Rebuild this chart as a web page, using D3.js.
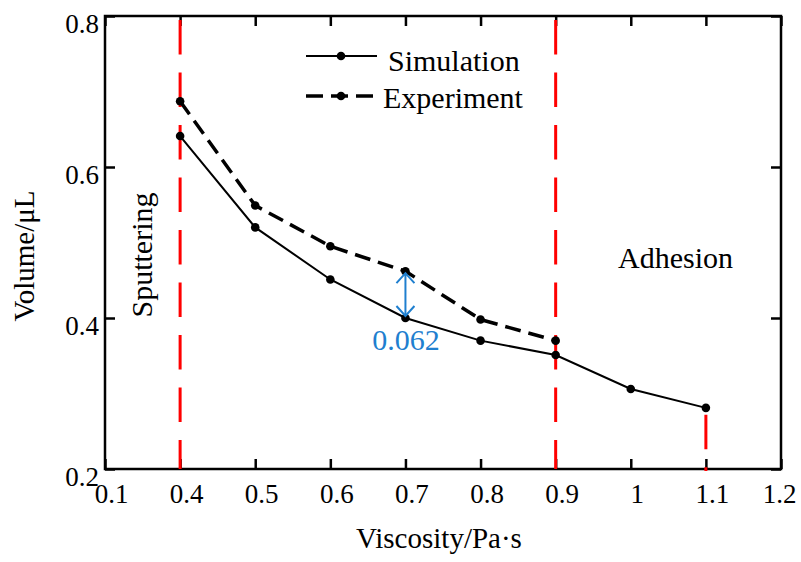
<!DOCTYPE html>
<html>
<head>
<meta charset="utf-8">
<script src="https://cdn.jsdelivr.net/npm/d3@7"></script>
<style>
  body { margin: 0; background: #fff; }
  text { font-family: "Liberation Serif", "Times New Roman", serif; }
</style>
</head>
<body>
<div id="chart"></div>
<script>
// data
const xLabels = ['0.1', '0.4', '0.5', '0.6', '0.7', '0.8', '0.9', '1', '1.1', '1.2'];
const simX = ['0.4', '0.5', '0.6', '0.7', '0.8', '0.9', '1', '1.1'];
const simY = [0.641, 0.520, 0.451, 0.400, 0.370, 0.351, 0.306, 0.281];
const expX = ['0.4', '0.5', '0.6', '0.7', '0.8', '0.9'];
const expY = [0.687, 0.549, 0.495, 0.462, 0.398, 0.370];
const yTicks = [0.2, 0.4, 0.6, 0.8];
const boundaryX = ['0.4', '0.9'];

const width = 801, height = 562;
const margin = {top: 16, right: 20, bottom: 93, left: 105};

const svg = d3.select('#chart').append('svg')
    .attr('width', width)
    .attr('height', height);

const x = d3.scalePoint()
    .domain(xLabels)
    .range([margin.left, width - margin.right]);
const y = d3.scaleLinear()
    .domain([0.2, 0.8])
    .range([height - margin.bottom, margin.top]);

const x0 = x.range()[0], x1 = x.range()[1];
const y0 = y.range()[0], y1 = y.range()[1];

// axes, ticks point inward
svg.append('g')
    .attr('transform', `translate(0,${y0})`)
    .call(d3.axisBottom(x).tickSize(-10).tickPadding(15).tickSizeOuter(0))
    .call(g => g.selectAll('text').attr('dx', (d, i) => i === xLabels.length - 1 ? -2 : 6));
svg.append('g')
    .attr('transform', `translate(0,${y1})`)
    .call(d3.axisTop(x).tickSize(-10).tickFormat('').tickSizeOuter(0));
svg.append('g')
    .attr('transform', `translate(${x0},0)`)
    .call(d3.axisLeft(y).tickValues(yTicks).tickSize(-10).tickPadding(6).tickSizeOuter(0)
        .tickFormat(d3.format('.1f')))
    .call(g => g.selectAll('text').attr('dy', '0.6em'));
svg.append('g')
    .attr('transform', `translate(${x1},0)`)
    .call(d3.axisRight(y).tickValues(yTicks).tickSize(-10).tickFormat('').tickSizeOuter(0));

svg.selectAll('.domain').remove();
svg.selectAll('.tick line').attr('stroke', '#000').attr('stroke-width', 2.5);
svg.selectAll('.tick text').attr('fill', '#000').style('font-size', '27px')
    .style('font-family', '"Liberation Serif", serif');

svg.append('rect')
    .attr('x', x0).attr('y', y1)
    .attr('width', x1 - x0).attr('height', y0 - y1)
    .attr('fill', 'none').attr('stroke', '#000').attr('stroke-width', 2.5);

// red boundary lines
svg.selectAll('.boundary')
    .data(boundaryX)
    .enter().append('line')
    .attr('x1', d => x(d)).attr('x2', d => x(d))
    .attr('y1', y1 + 4).attr('y2', y0)
    .attr('stroke', '#ff0000').attr('stroke-width', 3)
    .attr('stroke-dasharray', '34.5,18');
svg.append('line')
    .attr('x1', x('1.1')).attr('x2', x('1.1'))
    .attr('y1', y(simY[7]) + 7).attr('y2', y0 + 2)
    .attr('stroke', '#ff0000').attr('stroke-width', 3)
    .attr('stroke-dasharray', '34.5,18');

const line = d3.line().x(d => x(d[0])).y(d => y(d[1]));
const sim = d3.zip(simX, simY);
const exp = d3.zip(expX, expY);

svg.append('path').datum(exp)
    .attr('d', line).attr('fill', 'none')
    .attr('stroke', '#000').attr('stroke-width', 3.5)
    .attr('stroke-dasharray', '16,8');
svg.append('path').datum(sim)
    .attr('d', line).attr('fill', 'none')
    .attr('stroke', '#000').attr('stroke-width', 2);

svg.append('g').selectAll('circle')
    .data(sim.concat(exp))
    .enter().append('circle')
    .attr('cx', d => x(d[0])).attr('cy', d => y(d[1]))
    .attr('r', 4.3).attr('fill', '#000');

// legend
const legend = svg.append('g');
const legendItems = [
    {name: 'Simulation', dash: null, w: 2, ly: 56, tx: 388, ty: 71},
    {name: 'Experiment', dash: '17,8', w: 3.5, ly: 96, tx: 383, ty: 108}
];
legendItems.forEach(it => {
    legend.append('line')
        .attr('x1', 306).attr('x2', 377)
        .attr('y1', it.ly).attr('y2', it.ly)
        .attr('stroke', '#000').attr('stroke-width', it.w)
        .attr('stroke-dasharray', it.dash);
    legend.append('circle').attr('cx', 341).attr('cy', it.ly).attr('r', 4.3);
    legend.append('text')
        .attr('x', it.tx).attr('y', it.ty)
        .style('font-size', '30px')
        .text(it.name);
});

// gap annotation at 0.7
const blue = '#1f7fcf';
const ax = x('0.7');
const ya = y(expY[3]) + 2, yb = y(simY[3]) - 2;
svg.append('line')
    .attr('x1', ax).attr('x2', ax).attr('y1', ya).attr('y2', yb)
    .attr('stroke', blue).attr('stroke-width', 2);
svg.append('path')
    .attr('d', `M${ax - 9},${ya + 10}L${ax},${ya}L${ax + 9},${ya + 10}M${ax - 9},${yb - 10}L${ax},${yb}L${ax + 9},${yb - 10}`)
    .attr('fill', 'none').attr('stroke', blue).attr('stroke-width', 2);
svg.append('text')
    .attr('x', 406).attr('y', 350)
    .attr('text-anchor', 'middle')
    .attr('fill', blue)
    .style('font-size', '30px')
    .text((expY[3] - simY[3]).toFixed(3));

// region labels
svg.append('text')
    .attr('transform', 'translate(152,255) rotate(-90)')
    .attr('text-anchor', 'middle')
    .style('font-size', '30px')
    .text('Sputtering');
svg.append('text')
    .attr('x', 618).attr('y', 268)
    .style('font-size', '30px')
    .text('Adhesion');

// axis titles
svg.append('text')
    .attr('x', 439).attr('y', 548)
    .attr('text-anchor', 'middle')
    .style('font-size', '29px')
    .text('Viscosity/Pa·s');
svg.append('text')
    .attr('transform', 'translate(34,256) rotate(-90)')
    .attr('text-anchor', 'middle')
    .style('font-size', '29px')
    .text('Volume/μL');
</script>
</body>
</html>
